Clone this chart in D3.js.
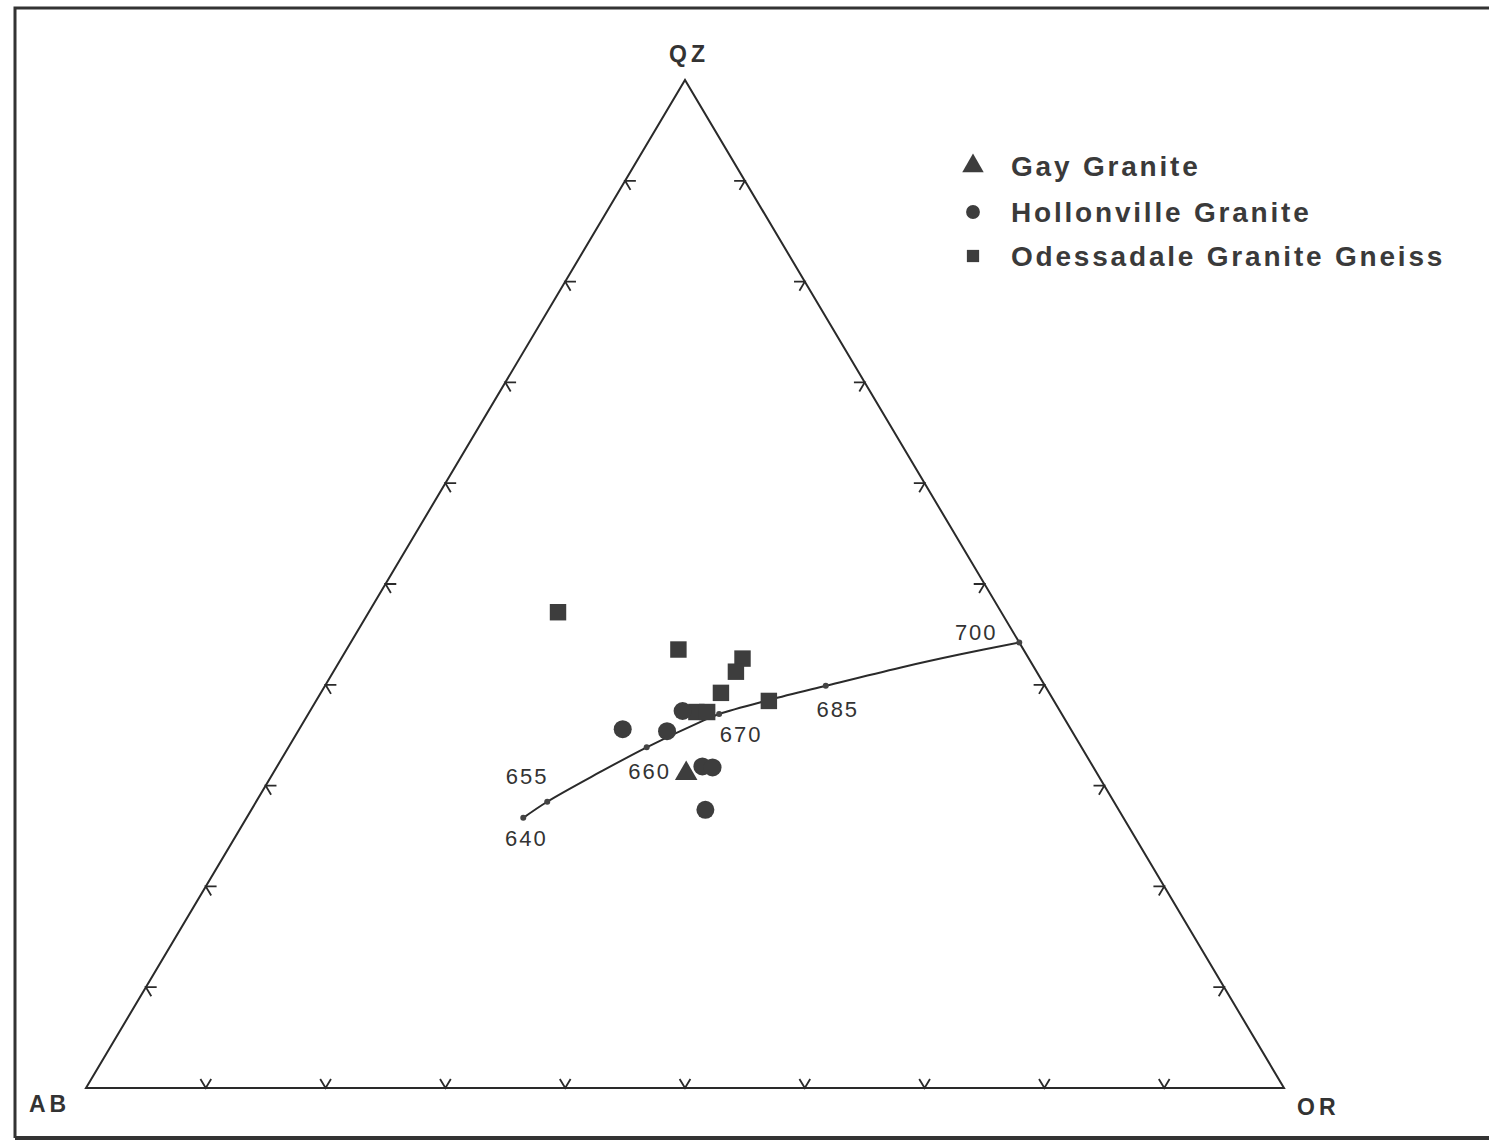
<!DOCTYPE html>
<html>
<head>
<meta charset="utf-8">
<script src="https://cdn.jsdelivr.net/npm/d3@7"></script>
<style>
  body { margin: 0; background: #fff; }
  svg { display: block; }
  .vertex { font-family: "Liberation Sans", Arial, sans-serif; font-weight: bold; font-size: 23px; letter-spacing: 4px; fill: #333; }
  .legend { font-family: "Liberation Sans", Arial, sans-serif; font-weight: bold; font-size: 28px; letter-spacing: 2.8px; fill: #3a3a3a; }
  .temp { font-family: "Liberation Sans", Arial, sans-serif; font-size: 22px; letter-spacing: 2px; fill: #333; }
</style>
</head>
<body>
<script>
// compositions as [QZ, AB, OR] fractions
const gay = [[0.312, 0.343, 0.345]]
const hollonville = [
  [0.356, 0.374, 0.270],
  [0.354, 0.338, 0.308],
  [0.374, 0.315, 0.311],
  [0.319, 0.326, 0.355],
  [0.318, 0.318, 0.364],
  [0.276, 0.345, 0.379]
]
const odessadale = [
  [0.472, 0.370, 0.158],
  [0.435, 0.288, 0.277],
  [0.426, 0.239, 0.335],
  [0.413, 0.251, 0.336],
  [0.392, 0.274, 0.334],
  [0.384, 0.238, 0.378],
  [0.373, 0.304, 0.323],
  [0.373, 0.295, 0.332]
]

// cotectic / minimum melt trace
const curve = [
  [0.268, 0.501, 0.231],
  [0.284, 0.473, 0.243],
  [0.313, 0.415, 0.272],
  [0.338, 0.363, 0.299],
  [0.363, 0.306, 0.331],
  [0.371, 0.286, 0.343],
  [0.385, 0.237, 0.378],
  [0.399, 0.183, 0.418],
  [0.417, 0.112, 0.471],
  [0.430, 0.056, 0.514],
  [0.442, 0.000, 0.558]
]
const tempLabels = ['640', '655', '660', '670', '685', '700']
const tempPoints = [
  [0.268, 0.501, 0.231],
  [0.284, 0.473, 0.243],
  [0.338, 0.363, 0.299],
  [0.371, 0.286, 0.343],
  [0.399, 0.183, 0.418],
  [0.442, 0.000, 0.558]
]
const tempOffsets = [[3, 28], [-20, -18], [3, 32], [22, 28], [12, 31], [-43, -2]]

const legendNames = ['Gay Granite', 'Hollonville Granite', 'Odessadale Granite Gneiss']
const ticks = d3.range(0.1, 0.95, 0.1)

const width = 1489
const height = 1142

const svg = d3.select('body').append('svg')
  .attr('width', width)
  .attr('height', height)

// frame
svg.append('path')
  .attr('d', 'M15,1138 L15,8 L1495,8')
  .attr('fill', 'none')
  .attr('stroke', '#333')
  .attr('stroke-width', 3)
svg.append('line')
  .attr('x1', 15).attr('x2', 1495)
  .attr('y1', 1138).attr('y2', 1138)
  .attr('stroke', '#333').attr('stroke-width', 4)

// ternary projection
const xScale = d3.scaleLinear().domain([0, 1]).range([86, 1284])
const yScale = d3.scaleLinear().domain([0, 1]).range([1088, 80])
const px = d => xScale(d[2] + d[0] / 2)
const py = d => yScale(d[0])

const lineCol = '#2a2a2a'

// triangle
const corners = [[0, 1, 0], [0, 0, 1], [1, 0, 0]]
svg.append('path')
  .attr('d', d3.line().x(px).y(py)(corners) + 'Z')
  .attr('fill', 'none')
  .attr('stroke', lineCol)
  .attr('stroke-width', 2)

// tick marks: two short strokes into the triangle, parallel to the other sides
const tl = 0.009
const tickG = svg.append('g').attr('stroke', lineCol).attr('stroke-width', 1.8).attr('fill', 'none')
ticks.forEach(t => {
  // bottom edge (QZ = 0)
  let p = [0, 1 - t, t]
  tickG.append('path').attr('d', d3.line().x(px).y(py)([[tl, 1 - t - tl, t], p, [tl, 1 - t, t - tl]]))
  // left edge (OR = 0)
  p = [t, 1 - t, 0]
  tickG.append('path').attr('d', d3.line().x(px).y(py)([[t, 1 - t - tl, tl], p, [t - tl, 1 - t, tl]]))
  // right edge (AB = 0)
  p = [t, 0, 1 - t]
  tickG.append('path').attr('d', d3.line().x(px).y(py)([[t, tl, 1 - t - tl], p, [t - tl, tl, 1 - t]]))
})

// vertex labels
svg.append('text').attr('class', 'vertex').attr('x', 689).attr('y', 62).attr('text-anchor', 'middle').text('QZ')
svg.append('text').attr('class', 'vertex').attr('x', 29).attr('y', 1112).text('AB')
svg.append('text').attr('class', 'vertex').attr('x', 1297).attr('y', 1115).text('OR')

// curve
svg.append('path')
  .attr('d', d3.line().x(px).y(py).curve(d3.curveCatmullRom)(curve))
  .attr('fill', 'none')
  .attr('stroke', lineCol)
  .attr('stroke-width', 2)

svg.append('g').selectAll('circle')
  .data(tempPoints)
  .enter()
  .append('circle')
  .attr('cx', px)
  .attr('cy', py)
  .attr('r', 3)
  .attr('fill', '#444')

svg.append('g').selectAll('text')
  .data(tempPoints)
  .enter()
  .append('text')
  .attr('class', 'temp')
  .attr('x', (d, i) => px(d) + tempOffsets[i][0])
  .attr('y', (d, i) => py(d) + tempOffsets[i][1])
  .attr('text-anchor', 'middle')
  .text((d, i) => tempLabels[i])

const markCol = '#3d3d3d'
const sym = [d3.symbolTriangle, d3.symbolCircle, d3.symbolSquare]

svg.append('g').selectAll('path')
  .data(odessadale)
  .enter()
  .append('path')
  .attr('transform', d => `translate(${px(d)},${py(d)})`)
  .attr('d', d3.symbol(d3.symbolSquare, 270))
  .attr('fill', markCol)

svg.append('g').selectAll('circle')
  .data(hollonville)
  .enter()
  .append('circle')
  .attr('cx', px)
  .attr('cy', py)
  .attr('r', 9)
  .attr('fill', markCol)

svg.append('g').selectAll('path')
  .data(gay)
  .enter()
  .append('path')
  .attr('transform', d => `translate(${px(d)},${py(d)})`)
  .attr('d', d3.symbol(d3.symbolTriangle, 220))
  .attr('fill', markCol)

// legend
const legend = svg.append('g').attr('transform', 'translate(973, 0)')
const legY = [166, 212, 256]
legend.selectAll('path')
  .data(legendNames)
  .enter()
  .append('path')
  .attr('transform', (d, i) => `translate(0,${legY[i]})`)
  .attr('d', (d, i) => d3.symbol(sym[i], [200, 150, 150][i])())
  .attr('fill', markCol)
legend.selectAll('text')
  .data(legendNames)
  .enter()
  .append('text')
  .attr('class', 'legend')
  .attr('x', 38)
  .attr('y', (d, i) => legY[i] + 10)
  .text(d => d)
</script>
</body>
</html>
